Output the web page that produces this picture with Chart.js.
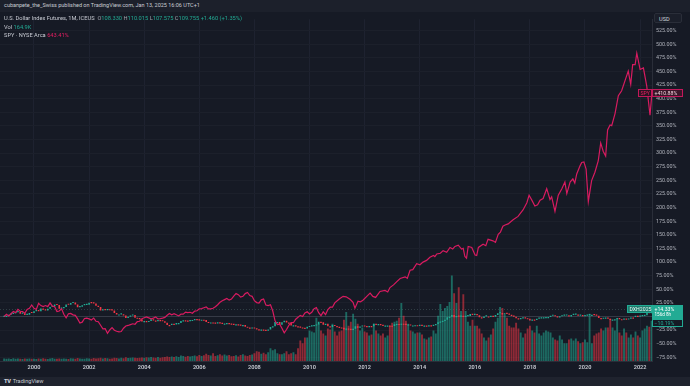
<!DOCTYPE html>
<html><head><meta charset="utf-8">
<script src="https://cdn.jsdelivr.net/npm/chart.js@4.4.1/dist/chart.umd.min.js"></script>
<style>
html,body{margin:0;padding:0;background:#161a25;width:690px;height:386px;overflow:hidden;font-family:Roboto,"Noto Sans",sans-serif;}
#top{position:absolute;left:0;top:0;width:690px;height:12px;background:#1c202b;color:#c9ccd4;font-size:5.5px;line-height:11px;padding-left:4px;box-sizing:border-box;white-space:nowrap;}
#foot{position:absolute;left:0;top:377px;width:690px;height:9px;background:#1f232e;color:#c9ccd4;font-size:5.6px;line-height:9px;padding-left:4px;box-sizing:border-box;}
#foot b{font-weight:900;letter-spacing:-0.3px;margin-right:2px;}
#cv{position:absolute;left:0;top:12px;}
#legend{position:absolute;left:4px;top:14px;font-size:5.7px;line-height:8.5px;color:#c9ccd4;white-space:nowrap;}
#legend .g{color:#9ea1aa}
#legend .up{color:#22ab94}
#legend .pk{color:#e91e63}
#usd{position:absolute;left:654px;top:13px;width:28px;height:10px;border:1px solid #2a2e39;border-radius:2px;background:#1b1f2a;color:#d1d4dc;font-size:5.6px;line-height:10px;padding-left:4px;box-sizing:border-box;}
</style></head>
<body>
<div id="top">cubanpete_the_Swiss published on TradingView.com, Jan 13, 2025 16:06 UTC+1</div>
<canvas id="cv" width="690" height="365"></canvas>
<div id="legend">
<div>U.S. Dollar Index Futures, 1M, ICEUS&nbsp; <span class="g">O</span><span class="up">108.330</span> <span class="g">H</span><span class="up">110.015</span> <span class="g">L</span><span class="up">107.575</span> <span class="g">C</span><span class="up">109.755</span> <span class="up">+1.460 (+1.35%)</span></div>
<div>Vol <span class="up">164.9K</span></div>
<div>SPY · NYSE Arca <span class="pk">643.41%</span></div>
</div>
<div id="usd">USD</div>
<div id="foot"><b>TV</b>TradingView</div>
<script>
// ---- data ----
const startYear = 1998, startMonth = 12;   // first monthly bar: Dec 1998
const dxyBase = 96.0;                      // close of first bar (percent baseline)
const dxyClose = [
 96.0,
 96.6,99.0,100.5,101.8,103.3,104.3,101.0,101.5,98.7,99.2,102.2,101.9,
 105.4,106.1,105.3,109.9,107.9,106.5,109.5,112.8,113.8,117.2,116.0,109.6,
 110.5,112.7,117.0,116.5,119.6,120.6,117.0,112.3,113.1,115.7,116.4,116.8,
 120.3,119.5,118.9,114.8,112.5,106.5,107.6,107.0,107.6,106.8,106.7,102.2,
 99.6,99.6,99.9,97.6,93.5,95.4,97.5,98.5,93.9,93.5,90.9,86.9,
 88.1,87.7,88.2,91.0,88.9,88.4,89.8,89.5,87.6,84.8,81.0,80.9,
 83.0,82.0,84.3,84.4,87.9,89.3,88.8,87.7,89.8,89.9,91.5,90.9,
 89.5,90.4,89.6,86.4,85.2,85.5,85.2,85.0,85.6,85.1,82.7,83.7,
 84.4,83.7,83.2,81.6,82.3,81.9,80.6,80.9,78.0,76.5,75.7,76.7,
 75.1,73.4,71.7,73.1,72.7,72.5,73.1,77.4,78.8,86.1,86.4,81.3,
 86.0,88.5,85.2,84.7,79.9,80.3,78.7,78.3,76.7,76.2,74.8,77.9,
 79.4,80.6,81.0,82.0,86.6,85.9,81.6,83.0,78.6,77.3,81.1,79.0,
 77.7,76.7,75.9,73.0,74.6,74.3,74.2,74.2,78.6,76.3,78.3,80.2,
 79.2,78.7,79.0,78.6,83.0,81.6,82.7,81.2,79.9,80.1,80.1,79.8,
 79.3,82.1,82.9,81.7,83.3,83.2,81.5,82.0,80.2,80.2,80.7,80.0,
 81.3,79.7,80.1,79.5,80.4,79.8,81.5,82.8,86.0,87.0,88.4,90.3,
 94.8,95.3,98.4,94.6,96.9,95.5,97.3,96.0,96.4,97.0,100.2,98.6,
 99.6,98.2,94.6,93.1,95.9,96.1,95.5,96.0,95.4,98.5,101.5,102.2,
 99.5,101.1,100.4,99.0,97.0,95.6,92.9,92.7,93.1,94.6,93.0,92.1,
 89.1,90.6,90.2,91.8,94.0,94.5,94.6,95.1,95.1,97.1,97.3,96.2,
 95.6,96.2,97.3,97.5,97.8,96.1,98.5,98.9,99.4,97.4,98.3,96.4,
 97.4,98.1,99.0,99.0,98.3,97.4,93.3,92.1,93.9,94.0,91.9,89.9,
 90.6,90.9,93.2,91.3,90.0,92.4,92.1,92.6,94.2,94.1,96.0,95.7,
 96.5,96.7,98.3,103.0,101.8,104.7
];
const volumeK = [
 25,
 22,25,20,28,22,26,24,20,26,22,25,22,
 24,20,26,22,28,24,20,25,30,24,22,26,
 22,26,24,20,28,25,22,30,26,24,22,28,
 25,22,30,26,28,34,25,30,28,24,26,32,
 30,26,34,28,38,30,32,36,34,30,32,36,
 34,38,35,42,36,32,40,34,38,42,45,40,
 45,40,48,42,55,50,44,52,46,50,55,48,
 60,52,58,75,62,55,80,50,58,70,55,65,
 55,60,48,52,58,45,62,70,55,50,60,65,
 80,100,95,75,85,70,90,130,110,120,80,70,
 70,80,100,70,80,90,70,130,210,180,240,240,
 310,300,290,440,380,310,280,260,330,320,380,300,
 260,300,310,420,500,360,400,480,430,380,310,340,
 300,290,260,270,380,310,280,260,280,240,260,360,
 390,400,410,440,590,460,410,380,310,300,280,290,
 290,270,230,220,240,250,310,280,460,580,510,540,
 560,600,870,690,590,750,510,680,510,400,360,420,
 360,360,330,280,240,210,240,270,330,400,440,550,
 540,470,440,360,340,340,390,330,290,240,280,330,
 360,310,290,360,280,260,290,310,300,290,240,220,
 210,260,220,180,180,220,230,210,230,200,180,190,
 220,190,480,180,260,280,290,330,310,340,340,430,
 340,310,430,290,260,330,290,240,270,240,300,260,
 240,310,330,360,350,410
];
// SPY percent change, monthly Dec 1998 .. Dec 2010
const spyMonthlyPct = [
 0,
 4,1,5,9,7,13,9.5,9,6,13,15,21,
 15,13,24,20,18,20,18,25,19,18,9,10,
 14,4,-2.5,5,5.6,3,2,-4.5,-12,-10.5,-3.8,-3,
 -4.5,-6.4,-3,-8.9,-9.7,-16.2,-22.7,-22.3,-30.8,-24.8,-20.5,-25.2,
 -27.2,-28.3,-27.6,-21.6,-17.5,-16.5,-15,-13.4,-14.3,-9.5,-8.8,-4.1,
 -2.4,-1,-2.6,-4.3,-3,-1.1,-4.4,-4.1,-3.1,-1.7,2.2,5.6,
 3,5,3.1,1,4.2,4.2,8,7,7.7,5.9,9.9,10.5,
 14,14.5,16,17.5,14,14,15,18,21.5,26,29,31,
 33,30,32,37.5,42,40,35.5,37,42,44,38.5,37,
 29,25.5,24.5,30.5,32,21,20,21.5,10,-8,-15,-14,
 -21.5,-30,-24,-16.5,-11.5,-11.5,-5,-1.5,2,0,6.5,8.5,
 4.6,7.8,14.3,16.2,7,1.5,8.5,3.5,12.8,17,17,25
];
// SPY percent change after 2010 (date in decimal years)
const spyLaterDates = [2011.08,2011.22,2011.33,2011.47,2011.58,2011.65,2011.76,2011.85,2011.94,2012.08,2012.20,2012.30,2012.40,2012.56,2012.74,2012.84,2012.92,2013.05,2013.17,2013.29,2013.47,2013.55,2013.65,2013.75,2013.89,2014.01,2014.12,2014.25,2014.37,2014.50,2014.55,2014.62,2014.75,2014.85,2014.98,2015.10,2015.20,2015.28,2015.40,2015.52,2015.58,2015.64,2015.70,2015.76,2015.89,2016.01,2016.07,2016.13,2016.30,2016.40,2016.48,2016.66,2016.75,2016.85,2016.93,2017.02,2017.10,2017.21,2017.39,2017.57,2017.75,2017.89,2017.97,2018.07,2018.18,2018.28,2018.37,2018.48,2018.61,2018.73,2018.79,2018.91,2019.03,2019.16,2019.27,2019.34,2019.46,2019.56,2019.63,2019.70,2019.82,2019.88,2019.96,2020.04,2020.12,2020.24,2020.36,2020.48,2020.57,2020.66,2020.75,2020.82,2020.91,2020.97,2021.09,2021.21,2021.33,2021.45,2021.57,2021.66,2021.73,2021.82,2021.88,2022.00,2022.12,2022.24,2022.36,2022.43];
const spyLaterPct = [32,36.9,36,31.5,26,15.3,27.9,27,29.7,37,42.8,36.9,35,45.9,47.7,45,53.1,58,64,69.8,72.8,70,84.9,86,96.8,95,99.8,103,108.8,112,110,114.8,116,120.9,117.8,126.8,124,128.6,130.9,123.7,125,110.1,107,128.6,126.8,112.9,112,126.8,132.7,130,141.7,138.9,136,150.7,155,165.8,168,170,177.7,183.8,195.7,209,222.7,213.7,202.9,205,213.7,216.7,234.7,214.9,219.8,192.8,222.7,234.7,246.8,225.7,246.8,252.7,245,261.7,276.6,282.7,283.8,270.7,210.8,249.6,264.8,285.6,318.7,303.6,294.6,342.6,351.6,350.4,372.7,405.6,414.6,432.6,450.6,426.6,462.6,462.6,483.5,453.6,456.5,423.6,369.6,410.88];
const yearTicks = [2000,2002,2004,2006,2008,2010,2012,2014,2016,2018,2020,2022];
const pctTicks = [-75,-50,-25,0,25,50,75,100,125,150,175,200,225,250,275,300,325,350,375,400,425,450,475,500,525];
const lastLabels = {dxyLast:14.33, dxyPrev:-10.19, spyLast:410.88};

// ---- build ----
const monthT = dxyClose.map((_, i) => startYear + (startMonth - 1 + i) / 12);
const pct = v => (v / dxyBase - 1) * 100;
const candles = dxyClose.map((c, i) => {
  const o = i ? dxyClose[i - 1] : c;
  return {x: monthT[i], y: [pct(o), pct(c)], up: c >= o};
});
const UP = '#22ab94', DN = '#f23645';
const spyPts = spyMonthlyPct.map((p, i) => ({x: monthT[i], y: p}))
  .concat(spyLaterDates.map((t, i) => ({x: t, y: spyLaterPct[i]})));

const fmtPct = v => (v < 0 ? '\u2212' : '') + Math.abs(v).toFixed(2) + '%';

const overlay = {
  id: 'overlay',
  beforeDatasetsDraw(chart) {
    const {ctx, chartArea: a, scales: {y}} = chart;
    const yp = Math.round(y.getPixelForValue(lastLabels.dxyLast)) + 0.5;
    ctx.save();
    ctx.strokeStyle = 'rgba(120,160,155,0.28)';
    ctx.setLineDash([1, 2]);
    ctx.lineWidth = 1;
    ctx.beginPath(); ctx.moveTo(a.left, yp); ctx.lineTo(a.right, yp); ctx.stroke();
    ctx.restore();
  },
  afterDraw(chart) {
    const {ctx, chartArea: a, scales: {y}} = chart;
    const box = (x, yt, w, h, fill, stroke, lines, color) => {
      ctx.fillStyle = fill; ctx.fillRect(x, yt, w, h);
      if (stroke) { ctx.strokeStyle = stroke; ctx.lineWidth = 1; ctx.strokeRect(x + 0.5, yt + 0.5, w - 1, h - 1); }
      ctx.fillStyle = color; ctx.textBaseline = 'middle'; ctx.textAlign = 'left';
      lines.forEach((l, k) => { ctx.font = l.f; ctx.fillText(l.t, x + 2.5, yt + 4.2 + k * 6); });
    };
    ctx.save();
    const f = '5.2px Roboto, "Noto Sans", sans-serif';
    // SPY
    const ys = Math.round(y.getPixelForValue(lastLabels.spyLast));
    box(a.right - 14, ys - 4, 14, 8, '#2a1422', '#c2185b', [{t: 'SPY', f}], '#e91e63');
    box(a.right, ys - 4, 31, 8, '#3a1629', '#c2185b', [{t: '+' + lastLabels.spyLast.toFixed(2) + '%', f}], '#f2d0dc');
    // DXY
    const yd = Math.round(y.getPixelForValue(lastLabels.dxyLast));
    box(a.right - 25, yd - 4, 25, 8, '#1f7d6e', '#22ab94', [{t: 'DXH2025', f}], '#e8f6f3');
    box(a.right, yd - 4, 31, 14, '#22ab94', null, [{t: '+' + lastLabels.dxyLast.toFixed(2) + '%', f}, {t: '156d 8h', f: '4.6px Roboto, sans-serif'}], '#ffffff');
    const yq = Math.round(y.getPixelForValue(lastLabels.dxyPrev));
    box(a.right, yq - 3, 31, 8, '#161a25', '#22ab94', [{t: fmtPct(lastLabels.dxyPrev), f}], '#22ab94');
    ctx.restore();
  }
};

new Chart(document.getElementById('cv'), {
  type: 'bar',
  data: {
    datasets: [
      {type: 'line', label: 'SPY', data: spyPts, yAxisID: 'y', borderColor: '#d81b60', borderWidth: 1.2,
       pointRadius: 0, tension: 0, order: 0},
      {label: 'DXY', data: candles, yAxisID: 'y', grouped: false, order: 1,
       backgroundColor: candles.map(c => c.up ? UP : DN), borderWidth: 0,
       barPercentage: 0.7, categoryPercentage: 1, minBarLength: 1.2},
      {label: 'Vol', data: volumeK.map((v, i) => ({x: monthT[i], y: v})), yAxisID: 'yv', grouped: false, order: 2,
       backgroundColor: candles.map(c => c.up ? 'rgba(34,171,148,0.55)' : 'rgba(242,54,69,0.55)'), borderWidth: 0,
       barPercentage: 0.82, categoryPercentage: 1}
    ]
  },
  options: {
    responsive: false, animation: false, devicePixelRatio: 1,
    layout: {padding: 0},
    plugins: {legend: {display: false}, tooltip: {enabled: false}},
    scales: {
      x: {type: 'linear', position: 'bottom', min: 1998.766, max: 2022.432, offset: false,
          afterBuildTicks: s => { s.ticks = yearTicks.map(v => ({value: v})); },
          afterFit: s => { s.height = 16; },
          ticks: {callback: v => String(v), color: '#c9ccd4', font: {size: 5.6, weight: '600', family: 'Roboto'}, padding: 3, maxRotation: 0, autoSkip: false},
          grid: {color: '#1e2230', drawTicks: false, offset: false},
          border: {color: '#2a2e39'}},
      y: {type: 'linear', position: 'right', min: -81.8, max: 545.9,
          afterBuildTicks: s => { s.ticks = pctTicks.map(v => ({value: v})); },
          afterFit: s => { s.width = 38; },
          ticks: {callback: v => fmtPct(v), color: '#aeb1ba', font: {size: 5.4, family: 'Roboto'}, padding: 4, autoSkip: false},
          grid: {color: c => c.tick && c.tick.value === 0 ? '#363a46' : '#1c202b', drawTicks: false},
          border: {color: '#2a2e39'}},
      yv: {type: 'linear', display: false, min: 0, max: 3480}
    }
  },
  plugins: [overlay]
});
</script>
</body></html>
